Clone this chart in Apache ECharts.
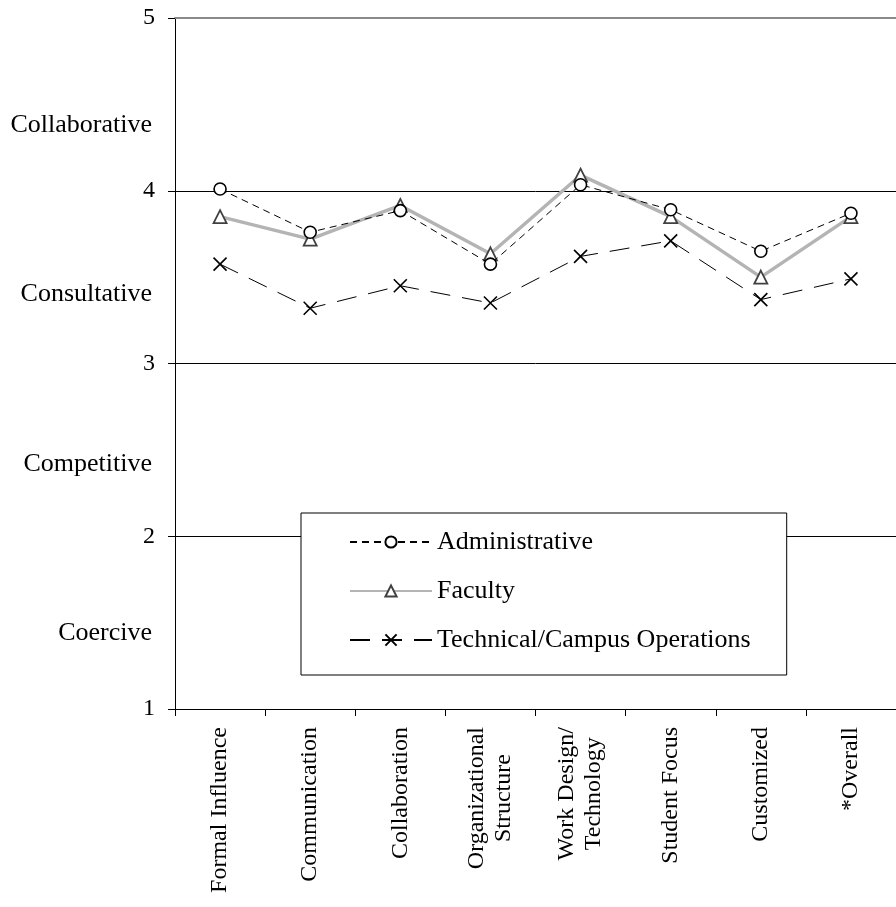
<!DOCTYPE html>
<html>
<head>
<meta charset="utf-8">
<script src="https://cdn.jsdelivr.net/npm/echarts@6/dist/echarts.min.js"></script>
<style>
html,body{margin:0;padding:0;background:#fff;}
#chart{width:896px;height:907px;}
</style>
</head>
<body>
<div id="chart"></div>
<script>
const categories = ['Formal Influence', 'Communication', 'Collaboration', 'Organizational\nStructure', 'Work Design/\nTechnology', 'Student Focus', 'Customized', '*Overall'];
const administrative = [4.01, 3.76, 3.885, 3.575, 4.035, 3.89, 3.65, 3.87];
const faculty = [3.85, 3.72, 3.915, 3.635, 4.09, 3.85, 3.50, 3.85];
const technical = [3.575, 3.32, 3.45, 3.35, 3.62, 3.71, 3.37, 3.49];
const yTickLabels = {1: '1', 2: '2', 3: '3', 4: '4', 5: '5'};
const yBandNames = ['Coercive', 'Competitive', 'Consultative', 'Collaborative'];
const yBandValues = [1.44, 2.42, 3.40, 4.38];
const seriesNames = ['Administrative', 'Faculty', 'Technical/Campus Operations'];

const FONT = '"Liberation Serif", "Times New Roman", serif';
const chart = echarts.init(document.getElementById('chart'), null, {renderer: 'canvas'});

function richCat(v) {
  return v.split('\n').map(s => '{c|' + s + '}').join('\n');
}
function bandName(v) {
  for (let i = 0; i < yBandValues.length; i++) {
    if (Math.abs(yBandValues[i] - v) < 1e-6) return yBandNames[i];
  }
  return '';
}

const option = {
  backgroundColor: '#fff',
  animation: false,
  textStyle: {fontFamily: FONT, color: '#000'},
  grid: {left: 175, top: 18, width: 727, height: 691, containLabel: false},
  legend: {
    data: seriesNames,
    orient: 'vertical',
    left: 301,
    top: 513,
    backgroundColor: '#fff',
    borderColor: '#000',
    borderWidth: 1,
    borderRadius: 0,
    padding: [16, 36, 22, 48],
    itemWidth: 82,
    itemHeight: 14,
    itemGap: 23,
    textStyle: {fontFamily: FONT, fontSize: 26, color: '#000'},
    z: 10
  },
  xAxis: [{
    type: 'category',
    data: categories,
    boundaryGap: true,
    axisLine: {lineStyle: {color: '#000', width: 1}},
    axisTick: {show: true, length: 7, lineStyle: {color: '#000'}},
    axisLabel: {
      rotate: 90,
      margin: 18,
      interval: 0,
      fontFamily: FONT,
      fontSize: 24,
      color: '#000',
      formatter: richCat,
      rich: {c: {fontFamily: FONT, fontSize: 24, color: '#000', align: 'center', lineHeight: 27}}
    },
    splitLine: {show: false}
  }, {
    type: 'category',
    data: categories,
    position: 'top',
    axisLine: {lineStyle: {color: '#8a8a8a', width: 2}},
    axisTick: {show: false},
    axisLabel: {show: false},
    splitLine: {show: false}
  }],
  yAxis: [{
    type: 'value',
    min: 1,
    max: 5,
    interval: 1,
    axisLine: {show: true, lineStyle: {color: '#000', width: 1}},
    axisTick: {show: true, length: 7, lineStyle: {color: '#000'}},
    axisLabel: {margin: 20, fontFamily: FONT, fontSize: 24, color: '#000', formatter: v => yTickLabels[v] || ''},
    splitLine: {show: true, lineStyle: {color: '#000', width: 1}}
  }, {
    type: 'value',
    min: 1,
    max: 5,
    interval: 1,
    position: 'left',
    axisLine: {show: false},
    axisTick: {show: false},
    axisLabel: {margin: 23, fontFamily: FONT, fontSize: 26, color: '#000', customValues: yBandValues, formatter: bandName},
    splitLine: {show: false}
  }],
  series: [{
    name: seriesNames[1],
    type: 'line',
    data: faculty,
    symbol: 'triangle',
    symbolSize: 13,
    lineStyle: {color: '#b4b4b4', width: 3.5, type: 'solid'},
    itemStyle: {color: '#fff', borderColor: '#404040', borderWidth: 1.8},
    z: 2
  }, {
    name: seriesNames[0],
    type: 'line',
    data: administrative,
    symbol: 'circle',
    symbolSize: 12,
    lineStyle: {color: '#000', width: 1, type: [7, 5]},
    itemStyle: {color: '#fff', borderColor: '#000', borderWidth: 1.6},
    z: 3
  }, {
    name: seriesNames[2],
    type: 'line',
    data: technical,
    symbol: 'path://M0,0L10,10M10,0L0,10',
    symbolSize: 13,
    lineStyle: {color: '#000', width: 1, type: [20, 12]},
    itemStyle: {color: 'none', borderColor: '#000', borderWidth: 1.6},
    z: 4
  }]
};
chart.setOption(option);
</script>
</body>
</html>
